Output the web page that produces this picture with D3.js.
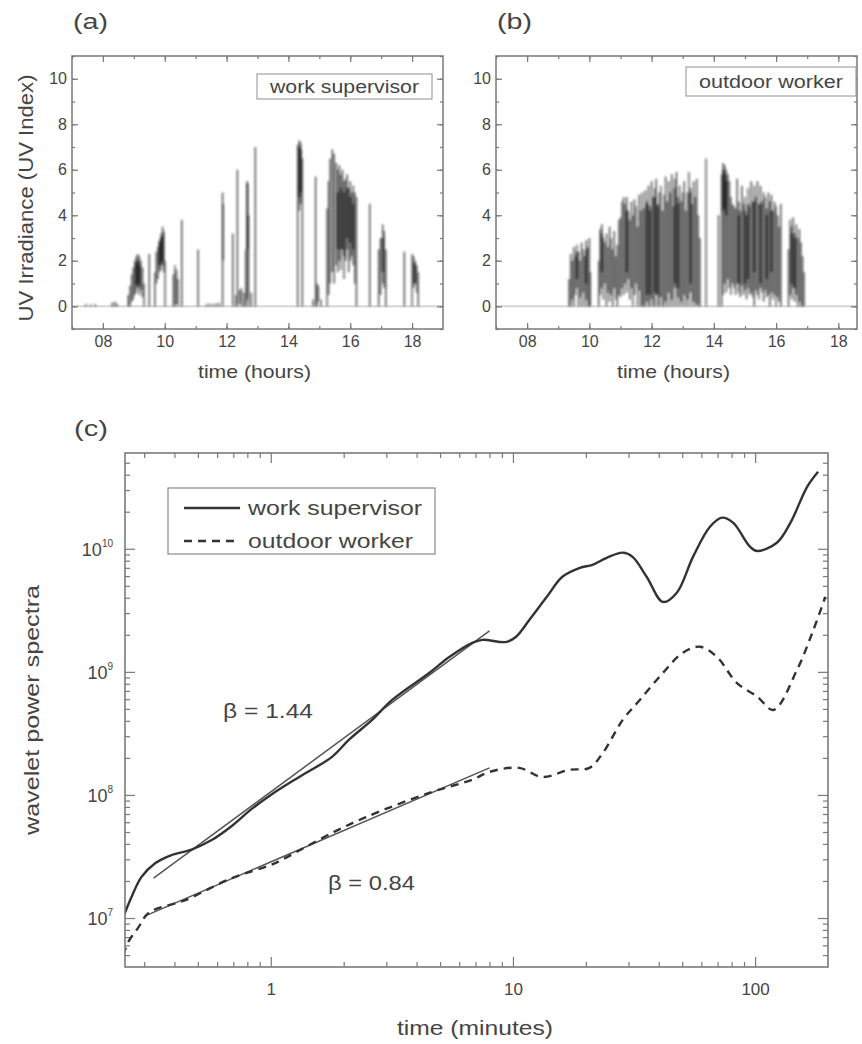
<!DOCTYPE html>
<html>
<head>
<meta charset="utf-8">
<script src="https://cdn.jsdelivr.net/npm/d3@7"></script>
<style>
  body { margin: 0; background: #fff; }
  text { font-family: "Liberation Sans", Arial, sans-serif; fill: #454545; }
</style>
</head>
<body>
<svg id="fig" width="862" height="1044"></svg>
<script>
// ---- data ----
const hourTicks = [8, 10, 12, 14, 16, 18];
const uvTicks = [0, 2, 4, 6, 8, 10];

// [hour, low UV, high UV] for each visible stroke
const supervisorUV = [
  [7.45,0,0.1],[7.6,0,0.08],[7.75,0,0.1],
  [8.3,0,0.15],[8.38,0,0.2],[8.46,0,0.12],
  [8.82,0,0.5],[8.88,0,0.9],[8.93,0.2,1.4],[8.98,0.3,1.7],[9.03,0.5,2.0],[9.08,0.6,2.2],[9.13,0.8,2.3],
  [9.18,0.5,2.2],[9.23,0.7,2.0],[9.28,0.4,1.7],[9.33,0,1.0],
  [9.5,0,2.3],
  [9.68,0,1.5],[9.73,1.0,2.4],[9.78,1.2,2.6],[9.83,1.5,2.9],[9.88,1.6,3.2],[9.93,1.8,3.5],[9.97,1.5,3.3],[10.01,0,2.0],
  [10.28,0,1.4],[10.33,0,1.8],[10.38,0.1,1.6],[10.43,0,1.2],
  [10.55,0,3.8],
  [11.08,0,2.5],
  [11.35,0,0.1],[11.45,0,0.12],[11.55,0,0.1],[11.65,0,0.12],[11.75,0,0.15],
  [11.87,0,5.0],[11.89,2.0,4.5],
  [12.2,0,3.2],[12.35,0,6.0],
  [12.3,0,0.5],[12.42,0.1,0.7],[12.48,0,0.8],[12.56,0,0.6],
  [12.62,0,2.5],[12.67,0.3,5.5],[12.71,0,4.0],
  [12.8,0,0.6],
  [12.93,0,7.0],
  [14.3,0,7.1],[14.35,4.2,7.3],[14.4,4.5,7.2],[14.45,0,6.5],
  [14.8,0,0.3],[14.88,0,5.7],[14.92,0,1.0],[14.97,0.2,0.9],[15.05,0,0.3],
  [15.25,0,4.3],[15.3,0.5,5.5],[15.35,1.0,6.5],[15.42,1.5,6.9],[15.48,1.0,6.7],[15.55,1.8,6.3],[15.6,1.5,6.0],
  [15.65,2.0,6.2],[15.7,1.6,5.8],[15.75,2.5,6.0],[15.8,1.2,5.5],[15.85,2.0,5.6],[15.9,2.5,5.8],[15.95,1.5,5.2],
  [16.0,2.0,5.5],[16.05,2.2,5.0],[16.1,1.8,5.3],[16.15,1.0,5.0],[16.2,0,4.8],
  [16.63,0,4.5],
  [16.92,0,2.5],[16.98,0.5,3.0],[17.05,1.0,3.6],[17.1,0.8,3.3],[17.15,0,2.5],
  [17.75,0,2.4],
  [18.0,0,2.3],[18.05,0.8,2.2],[18.1,1.0,2.0],[18.15,0.6,1.8],[18.2,0,1.5]
];
const supervisorCore = [
  [9.08,0.9,1.9],[9.13,1.0,2.0],[9.18,0.9,1.8],[9.83,1.8,2.8],[9.88,1.9,3.0],[9.93,2.0,3.1],
  [12.67,2.5,5.4],[14.35,4.8,7.0],[14.4,5.0,6.9],
  [15.6,2.5,5.0],[15.7,2.5,5.2],[15.8,2.2,5.0],[15.9,3.0,5.2],[16.0,2.8,4.8],[16.1,2.5,4.5],
  [17.05,1.5,3.0],[18.08,1.0,1.9]
];

const workerUV = [
  [9.35,0,1.2],[9.4,0,2.3],[9.45,0.3,2.0],[9.5,0,2.6],[9.55,0.5,2.2],[9.6,0.8,2.7],[9.65,0,2.4],[9.7,0.4,2.0],
  [9.75,0,2.8],[9.8,0.6,2.5],[9.85,0,2.2],[9.9,0.3,2.9],[9.95,0,2.6],[10.0,0,3.0],[10.03,0,1.5],
  [10.3,0,2.0],[10.35,0.5,3.4],[10.4,0.8,3.6],[10.45,0.3,3.0],[10.5,1.0,2.8],[10.55,0,3.2],[10.6,0.6,2.6],
  [10.65,0.2,3.5],[10.7,0.5,3.0],[10.75,0,2.5],[10.8,0.8,3.3],[10.85,0.3,2.2],[10.9,0,2.7],[10.95,0.5,3.8],
  [11.0,0.4,3.9],[11.05,0.8,4.6],[11.1,0.5,4.8],[11.15,1.0,4.5],[11.2,0.6,4.8],[11.25,1.2,4.2],[11.3,0.3,3.8],
  [11.35,0.8,4.6],[11.4,0,4.0],[11.45,0.5,4.7],[11.5,1.0,4.4],[11.55,0,3.5],[11.6,0.7,4.9],[11.65,0,4.2],
  [11.7,0,5.0],[11.75,0,4.3],[11.8,0,5.1],[11.85,0.2,4.6],[11.9,0,5.3],[11.95,0,4.4],[12.0,0.3,5.5],[12.05,0,4.8],
  [12.1,0,5.2],[12.15,0.5,5.6],[12.2,0,4.5],[12.25,0,5.0],[12.3,0.4,5.3],[12.35,0,4.2],[12.4,0,4.9],
  [12.45,0.2,5.7],[12.5,0,4.6],[12.55,0.6,5.5],[12.6,0,5.0],[12.65,0.3,5.8],[12.7,0,4.4],[12.75,0.8,5.6],
  [12.8,0,5.9],[12.85,0.4,4.8],[12.9,0,5.3],[12.95,0.2,4.6],[13.0,0,5.0],[13.05,0.5,5.5],[13.1,0,4.2],
  [13.15,0.3,5.0],[13.2,0,5.9],[13.25,0.6,5.2],[13.3,0,4.5],[13.35,0.2,5.5],[13.4,0,4.8],[13.45,0.1,5.6],
  [13.5,0,4.0],[13.55,0,3.0],
  [13.75,0,6.5],[14.15,0,4.0],
  [14.25,0,5.8],[14.3,0.5,6.3],[14.35,1.0,6.2],[14.4,0.6,6.0],[14.45,1.2,5.8],[14.5,0.8,5.5],[14.55,0.5,4.8],[14.6,1.0,4.5],
  [14.65,0.8,4.4],[14.7,0.5,4.3],[14.75,1.0,5.6],[14.8,0.6,4.6],[14.85,0.4,4.2],[14.9,0.9,5.3],[14.95,0.5,4.5],
  [15.0,0.7,4.8],[15.05,0.3,4.0],[15.1,0.8,5.2],[15.15,0.5,4.4],[15.2,0.6,5.5],[15.25,0.4,4.6],[15.3,0,5.3],
  [15.35,0.7,4.8],[15.4,0.5,5.5],[15.45,0.3,4.5],[15.5,0.8,5.3],[15.55,0.6,4.6],[15.6,0.2,5.0],[15.65,0.7,4.8],
  [15.7,0.4,4.3],[15.75,0.5,5.0],[15.8,0,4.6],[15.85,0.6,4.9],[15.9,0.3,4.2],[15.95,0.5,4.6],[16.0,0,4.4],
  [16.05,0.4,4.0],[16.1,0.2,3.5],[16.15,0,4.5],
  [16.4,0,2.5],[16.45,0.5,3.8],[16.5,0.3,3.5],[16.55,0.8,3.9],[16.6,0.2,3.2],[16.65,0.5,3.6],[16.7,0,3.0],
  [16.75,0.2,3.4],[16.8,0,2.8],[16.85,0,2.2],[16.9,0,1.5]
];
const workerCore = [
  [9.6,1.2,2.4],[9.9,1.0,2.5],[10.4,1.5,3.2],[11.2,1.5,4.2],[11.85,0.5,4.5],[11.95,0.5,4.2],[12.1,0.6,4.8],
  [12.2,0.5,4.4],[12.75,1.0,5.2],[12.85,0.8,4.5],[13.25,1.0,5.0],[14.3,4.2,6.0],[14.35,4.3,5.8],[14.4,4.0,5.5],
  [14.8,1.0,4.0],[15.0,1.0,4.2],[15.1,1.2,4.5],[15.3,1.5,4.6],[15.5,1.0,4.5],[15.7,1.2,4.0],[15.85,1.5,4.2],
  [16.5,1.0,3.2],[16.6,0.8,3.0]
];

const minuteTicks = [1, 10, 100];
const powerTicks = [1e7, 1e8, 1e9, 1e10];

// [time (minutes), wavelet power]
const supervisorSpectrum = [
  [0.246,1.02e7],[0.266,1.48e7],[0.292,2.15e7],[0.334,2.8e7],[0.389,3.25e7],[0.471,3.6e7],[0.57,4.3e7],
  [0.69,5.6e7],[0.834,7.7e7],[1,1.0e8],[1.31,1.4e8],[1.79,2.04e8],[2.1,2.8e8],[2.62,4.07e8],[3.17,5.92e8],
  [4.51,9.8e8],[5.46,1.32e9],[6.79,1.72e9],[7.48,1.82e9],[9.4,1.75e9],[10.3,1.93e9],[11.7,2.65e9],[13.8,4.07e9],
  [16.0,5.92e9],[18.9,7.0e9],[21.3,7.4e9],[24.4,8.45e9],[28.4,9.3e9],[31.2,8.6e9],[35.7,5.9e9],[41.6,3.7e9],
  [47.5,4.4e9],[55.4,8.6e9],[65.1,1.51e10],[73,1.79e10],[81.1,1.63e10],[95.3,1.04e10],[102,9.6e9],[123,1.12e10],
  [140,1.63e10],[164,3.19e10],[182,4.23e10]
];
const workerSpectrum = [
  [0.246,5.0e6],[0.258,6.4e6],[0.284,8.4e6],[0.313,1.1e7],[0.444,1.4e7],[0.69,2.11e7],[1,2.7e7],[1.15,3.08e7],
  [1.79,4.91e7],[2.47,6.6e7],[4.51,1.04e8],[6.79,1.33e8],[8,1.54e8],[10.6,1.66e8],[13.2,1.40e8],[17.1,1.6e8],
  [20.7,1.66e8],[23.5,2.19e8],[28.4,4.07e8],[33.4,5.9e8],[41.6,9.8e8],[50.3,1.43e9],[59.2,1.6e9],[69.6,1.32e9],
  [84.2,8.1e8],[102,6.3e8],[119,4.9e8],[149,1.04e9],[174,2.19e9],[195,4.07e9]
];
const supervisorFit = [[0.328,2.11e7],[8,2.15e9]];
const workerFit = [[0.31,1.06e7],[8,1.66e8]];

// ---- drawing ----
const svg = d3.select('#fig');
const frameColor = '#7a7a7a';
const inkColor = '#111';

svg.append('defs').append('filter').attr('id', 'soft')
  .attr('x', '-5%').attr('y', '-5%').attr('width', '110%').attr('height', '110%')
  .append('feGaussianBlur').attr('stdDeviation', 0.8);

function addText(sel, x, y, str, size, anchor, len) {
  const t = sel.append('text')
    .attr('x', x).attr('y', y)
    .attr('font-size', size)
    .attr('text-anchor', anchor || 'start')
    .text(str);
  if (len) t.attr('textLength', len).attr('lengthAdjust', 'spacingAndGlyphs');
  return t;
}

function styleAxis(g, size) {
  g.select('.domain').remove();
  g.attr('font-family', '"Liberation Sans", Arial, sans-serif')
    .attr('font-size', size).attr('color', frameColor);
  g.selectAll('line').attr('stroke-width', 1.2);
  g.selectAll('text').style('fill', '#454545');
}

function uvPanel(o) {
  const x = d3.scaleLinear().domain([7, o.xMax]).range([o.left, o.right]);
  const y = d3.scaleLinear().domain([-1, 11]).range([o.bottom, o.top]);
  const g = svg.append('g');

  g.append('line')
    .attr('x1', o.left).attr('x2', o.right)
    .attr('y1', y(0)).attr('y2', y(0))
    .attr('stroke', '#dcdcdc').attr('stroke-width', 2.5);

  const marks = g.append('g').attr('filter', 'url(#soft)');
  marks.selectAll('line.s').data(o.data).join('line')
    .attr('class', 's')
    .attr('x1', d => x(d[0])).attr('x2', d => x(d[0]))
    .attr('y1', d => y(d[1])).attr('y2', d => y(d[2]))
    .attr('stroke', inkColor).attr('stroke-width', 1.5).attr('opacity', 0.68);
  marks.selectAll('line.c').data(o.core).join('line')
    .attr('class', 'c')
    .attr('x1', d => x(d[0])).attr('x2', d => x(d[0]))
    .attr('y1', d => y(d[1])).attr('y2', d => y(d[2]))
    .attr('stroke', inkColor).attr('stroke-width', 2.6).attr('opacity', 0.55);

  const minorHours = d3.range(7, o.xMax, 1);
  const minorUV = d3.range(-1, 11.01, 1);

  g.append('g').attr('transform', `translate(0,${o.bottom})`)
    .call(d3.axisBottom(x).tickValues(minorHours).tickFormat('').tickSizeInner(-3).tickSizeOuter(0))
    .call(a => styleAxis(a, 16));
  g.append('g').attr('transform', `translate(0,${o.bottom})`)
    .call(d3.axisBottom(x).tickValues(hourTicks).tickFormat(d3.format('02d')).tickSizeInner(-6).tickSizeOuter(0).tickPadding(7))
    .call(a => styleAxis(a, 16));
  g.append('g').attr('transform', `translate(0,${o.top})`)
    .call(d3.axisTop(x).tickValues(minorHours).tickFormat('').tickSizeInner(-3).tickSizeOuter(0))
    .call(a => styleAxis(a, 16));
  g.append('g').attr('transform', `translate(0,${o.top})`)
    .call(d3.axisTop(x).tickValues(hourTicks).tickFormat('').tickSizeInner(-6).tickSizeOuter(0))
    .call(a => styleAxis(a, 16));
  g.append('g').attr('transform', `translate(${o.left},0)`)
    .call(d3.axisLeft(y).tickValues(minorUV).tickFormat('').tickSizeInner(-3).tickSizeOuter(0))
    .call(a => styleAxis(a, 16));
  g.append('g').attr('transform', `translate(${o.left},0)`)
    .call(d3.axisLeft(y).tickValues(uvTicks).tickSizeInner(-6).tickSizeOuter(0).tickPadding(5))
    .call(a => styleAxis(a, 16));
  g.append('g').attr('transform', `translate(${o.right},0)`)
    .call(d3.axisRight(y).tickValues(minorUV).tickFormat('').tickSizeInner(-3).tickSizeOuter(0))
    .call(a => styleAxis(a, 16));
  g.append('g').attr('transform', `translate(${o.right},0)`)
    .call(d3.axisRight(y).tickValues(uvTicks).tickFormat('').tickSizeInner(-6).tickSizeOuter(0))
    .call(a => styleAxis(a, 16));

  g.append('rect')
    .attr('x', o.left).attr('y', o.top)
    .attr('width', o.right - o.left).attr('height', o.bottom - o.top)
    .attr('fill', 'none').attr('stroke', frameColor).attr('stroke-width', 1.5);

  // legend box
  g.append('rect')
    .attr('x', o.box[0]).attr('y', o.box[1]).attr('width', o.box[2]).attr('height', o.box[3])
    .attr('fill', '#fff').attr('stroke', '#9a9a9a').attr('stroke-width', 1.1);
  addText(g, o.box[0] + o.box[2] / 2, o.box[1] + o.box[3] / 2 + 6, o.name, 18, 'middle', o.nameLen);

  addText(g, o.left + 1, 29, o.letter, 22, 'start', 35);
  addText(g, (o.left + o.right) / 2 - 3, 378, 'time (hours)', 19, 'middle', 113);
}

uvPanel({
  left: 72, right: 443, top: 56, bottom: 329, xMax: 19,
  data: supervisorUV, core: supervisorCore,
  name: 'work supervisor', nameLen: 149, letter: '(a)',
  box: [257, 74, 175, 25]
});
uvPanel({
  left: 496, right: 857, top: 56, bottom: 329, xMax: 18.6,
  data: workerUV, core: workerCore,
  name: 'outdoor worker', nameLen: 144, letter: '(b)',
  box: [686, 67, 170, 29]
});

svg.append('text')
  .attr('transform', 'translate(33,198) rotate(-90)')
  .attr('font-size', 20).attr('text-anchor', 'middle')
  .attr('textLength', 247).attr('lengthAdjust', 'spacingAndGlyphs')
  .text('UV Irradiance (UV Index)');

// ---- panel (c) ----
const c = { left: 125, right: 828, top: 453, bottom: 967 };
const xs = d3.scaleLog().domain([0.25, 200]).range([c.left, c.right]);
const ys = d3.scaleLog().domain([4e6, 6e10]).range([c.bottom, c.top]);
const gc = svg.append('g');

const minorMinutes = [0.3,0.4,0.5,0.6,0.7,0.8,0.9,2,3,4,5,6,7,8,9,20,30,40,50,60,70,80,90];
const minorPower = [5e6,6e6,7e6,8e6,9e6,2e7,3e7,4e7,5e7,6e7,7e7,8e7,9e7,2e8,3e8,4e8,5e8,6e8,7e8,8e8,9e8,
  2e9,3e9,4e9,5e9,6e9,7e9,8e9,9e9,2e10,3e10,4e10,5e10];

gc.append('g').attr('transform', `translate(0,${c.bottom})`)
  .call(d3.axisBottom(xs).tickValues(minorMinutes).tickFormat('').tickSizeInner(-5).tickSizeOuter(0))
  .call(a => styleAxis(a, 17));
gc.append('g').attr('transform', `translate(0,${c.bottom})`)
  .call(d3.axisBottom(xs).tickValues(minuteTicks).tickFormat(d3.format('d')).tickSizeInner(-10).tickSizeOuter(0).tickPadding(16))
  .call(a => styleAxis(a, 17));
gc.append('g').attr('transform', `translate(0,${c.top})`)
  .call(d3.axisTop(xs).tickValues(minorMinutes).tickFormat('').tickSizeInner(-5).tickSizeOuter(0))
  .call(a => styleAxis(a, 17));
gc.append('g').attr('transform', `translate(0,${c.top})`)
  .call(d3.axisTop(xs).tickValues(minuteTicks).tickFormat('').tickSizeInner(-10).tickSizeOuter(0))
  .call(a => styleAxis(a, 17));
gc.append('g').attr('transform', `translate(${c.left},0)`)
  .call(d3.axisLeft(ys).tickValues(minorPower).tickFormat('').tickSizeInner(-5).tickSizeOuter(0))
  .call(a => styleAxis(a, 17));
gc.append('g').attr('transform', `translate(${c.left},0)`)
  .call(d3.axisLeft(ys).tickValues(powerTicks).tickFormat('').tickSizeInner(-10).tickSizeOuter(0))
  .call(a => styleAxis(a, 17));
gc.append('g').attr('transform', `translate(${c.right},0)`)
  .call(d3.axisRight(ys).tickValues(minorPower).tickFormat('').tickSizeInner(-5).tickSizeOuter(0))
  .call(a => styleAxis(a, 17));
gc.append('g').attr('transform', `translate(${c.right},0)`)
  .call(d3.axisRight(ys).tickValues(powerTicks).tickFormat('').tickSizeInner(-10).tickSizeOuter(0))
  .call(a => styleAxis(a, 17));

// y tick labels with exponents
const yl = gc.selectAll('text.ylab').data(powerTicks).join('text')
  .attr('class', 'ylab')
  .attr('x', c.left - 12)
  .attr('y', d => ys(d) + 7)
  .attr('font-size', 18)
  .attr('text-anchor', 'end');
yl.append('tspan').text('10');
yl.append('tspan').attr('font-size', 10).attr('dy', -9).text(d => Math.round(Math.log10(d)));

gc.append('clipPath').attr('id', 'clipc').append('rect')
  .attr('x', c.left).attr('y', c.top).attr('width', c.right - c.left).attr('height', c.bottom - c.top);

const curve = d3.line().x(d => xs(d[0])).y(d => ys(d[1])).curve(d3.curveCatmullRom.alpha(0.5));
const straight = d3.line().x(d => xs(d[0])).y(d => ys(d[1]));
const plot = gc.append('g').attr('clip-path', 'url(#clipc)');

plot.append('path').datum(supervisorFit).attr('d', straight)
  .attr('fill', 'none').attr('stroke', '#555').attr('stroke-width', 1.5);
plot.append('path').datum(workerFit).attr('d', straight)
  .attr('fill', 'none').attr('stroke', '#555').attr('stroke-width', 1.5);
plot.append('path').datum(supervisorSpectrum).attr('d', curve)
  .attr('fill', 'none').attr('stroke', '#333').attr('stroke-width', 2.4);
plot.append('path').datum(workerSpectrum).attr('d', curve)
  .attr('fill', 'none').attr('stroke', '#333').attr('stroke-width', 2.4)
  .attr('stroke-dasharray', '8,6');

gc.append('rect')
  .attr('x', c.left).attr('y', c.top)
  .attr('width', c.right - c.left).attr('height', c.bottom - c.top)
  .attr('fill', 'none').attr('stroke', frameColor).attr('stroke-width', 1.6);

// legend
gc.append('rect').attr('x', 168).attr('y', 488).attr('width', 267).attr('height', 66)
  .attr('fill', '#fff').attr('stroke', '#8a8a8a').attr('stroke-width', 1.2);
gc.append('line').attr('x1', 184).attr('x2', 240).attr('y1', 508).attr('y2', 508)
  .attr('stroke', '#333').attr('stroke-width', 2.4);
gc.append('line').attr('x1', 184).attr('x2', 240).attr('y1', 541).attr('y2', 541)
  .attr('stroke', '#333').attr('stroke-width', 2.4).attr('stroke-dasharray', '8,6');
addText(gc, 248, 515, 'work supervisor', 21, 'start', 174);
addText(gc, 248, 548, 'outdoor worker', 21, 'start', 165);

addText(gc, 223, 718, 'β = 1.44', 20, 'start', 90);
addText(gc, 328, 890, 'β = 0.84', 20, 'start', 87);

addText(gc, 74, 436, '(c)', 22, 'start', 34);
addText(gc, 475, 1035, 'time (minutes)', 20, 'middle', 156);
svg.append('text')
  .attr('transform', 'translate(39,710) rotate(-90)')
  .attr('font-size', 20).attr('text-anchor', 'middle')
  .attr('textLength', 250).attr('lengthAdjust', 'spacingAndGlyphs')
  .text('wavelet power spectra');
</script>
</body>
</html>
